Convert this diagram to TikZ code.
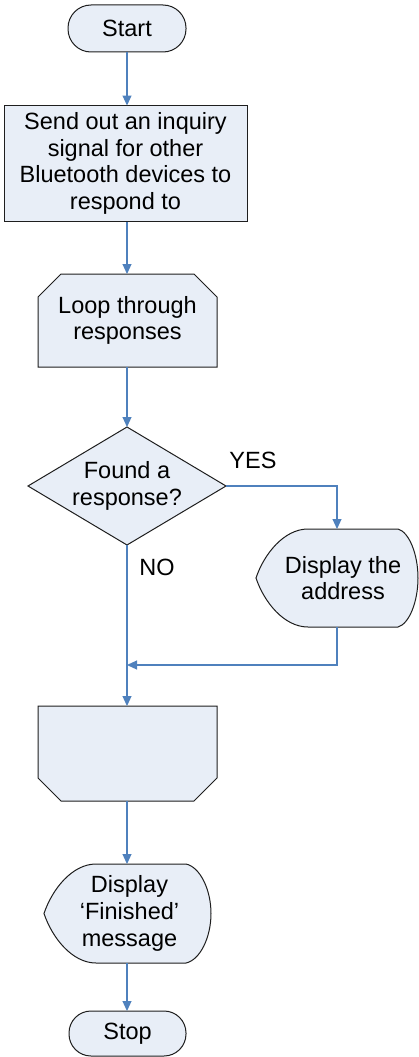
\documentclass[tikz,border=0pt]{standalone}
\usepackage{fontspec}
\setmainfont{Liberation Sans}
\usetikzlibrary{arrows.meta,shapes.geometric}
\definecolor{boxfill}{RGB}{232,238,247}
\definecolor{boxline}{RGB}{30,30,30}
\definecolor{flowline}{RGB}{79,129,189}
\tikzset{
  frame/.style={minimum width=#1, inner sep=0pt, outer sep=0pt},
  outline/.style={draw=boxline, fill=boxfill, line width=1pt},
  flow/.style={draw=flowline, line width=1.1pt, -{Triangle[length=10pt,width=9pt]}},
  lbl/.style={font=\fontsize{23.5}{26.7}\selectfont, inner sep=0pt, align=center}
}
\begin{document}
\begin{tikzpicture}[x=1pt,y=-1pt]
\useasboundingbox (0,0) rectangle (419,1057);

% shape frames
\node[frame=118pt, minimum height=47pt] (start) at (127,28.5) {};
\node[frame=243pt, minimum height=116pt] (send) at (125.5,163.5) {};
\node[frame=179pt, minimum height=93pt] (loop) at (127.5,320.5) {};
\node[frame=198pt, minimum height=118pt] (found) at (127,486) {};
\node[frame=162pt, minimum height=98pt] (addr) at (337,578) {};
\node[frame=179pt, minimum height=95pt] (blank) at (127.5,753.5) {};
\node[frame=167pt, minimum height=99pt] (fin) at (127.5,913.5) {};
\node[frame=117pt, minimum height=45pt] (stop) at (127.5,1033.5) {};

% outlines
\draw[outline, rounded corners=23pt] (start.south west) rectangle (start.north east);
\draw[outline] (send.south west) rectangle (send.north east);
\draw[outline] (loop.south west) -- ([yshift=-23pt]loop.north west) -- ([xshift=23pt]loop.north west)
  -- ([xshift=-23pt]loop.north east) -- ([yshift=-23pt]loop.north east) -- (loop.south east) -- cycle;
\draw[outline] (found.north) -- (found.east) -- (found.south) -- (found.west) -- cycle;
% display shapes: two arcs meeting in a point on the left, a rounded bulge on the right
\foreach \n/\b/\c in {addr/20pt/11pt, fin/25pt/14pt}{
  \draw[outline] ([xshift=52pt]\n.north west) -- ([xshift=-\b]\n.north east)
    .. controls ([xshift=-\b+\c,yshift=-3pt]\n.north east) and ([yshift=24pt]\n.east) .. (\n.east)
    .. controls ([yshift=-24pt]\n.east) and ([xshift=-\b+\c,yshift=3pt]\n.south east) .. ([xshift=-\b]\n.south east)
    -- ([xshift=52pt]\n.south west)
    .. controls ([xshift=28pt]\n.south west) and ([xshift=8pt,yshift=-24pt]\n.west) .. (\n.west)
    .. controls ([xshift=8pt,yshift=24pt]\n.west) and ([xshift=28pt]\n.north west) .. cycle;
}
\draw[outline] ([yshift=23pt]blank.south west) -- (blank.north west) -- (blank.north east)
  -- ([yshift=23pt]blank.south east) -- ([xshift=-23pt]blank.south east) -- ([xshift=23pt]blank.south west) -- cycle;
\draw[outline, rounded corners=22pt] (stop.south west) rectangle (stop.north east);

% texts
\node[lbl] (starttext) at (start) {Start};
\node[lbl] (sendtext) at (send) {Send out an inquiry\\signal for other\\Bluetooth devices to\\respond to};
\node[lbl] (looptext) at (loop) {Loop through\\responses};
\node[lbl] (foundtext) at (found) {Found a\\response?};
\node[lbl] (addrtext) at ([xshift=6pt]addr.center) {Display the\\address};
\node[lbl] (fintext) at ([xshift=2pt]fin.center) {Display\\‘Finished’\\message};
\node[lbl] (stoptext) at (stop) {Stop};
\node[lbl] (yes) at (253,460) {YES};
\node[lbl] (no) at (157,567) {NO};

% connectors
\coordinate (join) at (127,665);
\draw[flow] (start.south -| 127,0) -- (send.north -| 127,0);
\draw[flow] (send.south -| 127,0) -- (loop.north -| 127,0);
\draw[flow] (loop.south -| 127,0) -- (found.north);
\draw[flow] (found.east) -| (addr.north);
\draw[flow] (addr.south) |- (join);
\draw[flow] (found.south) -- (blank.north -| found.south);
\draw[flow] (blank.south -| 127,0) -- (fin.north -| 127,0);
\draw[flow] (fin.south -| 127,0) -- (stop.north -| 127,0);
\end{tikzpicture}
\end{document}
